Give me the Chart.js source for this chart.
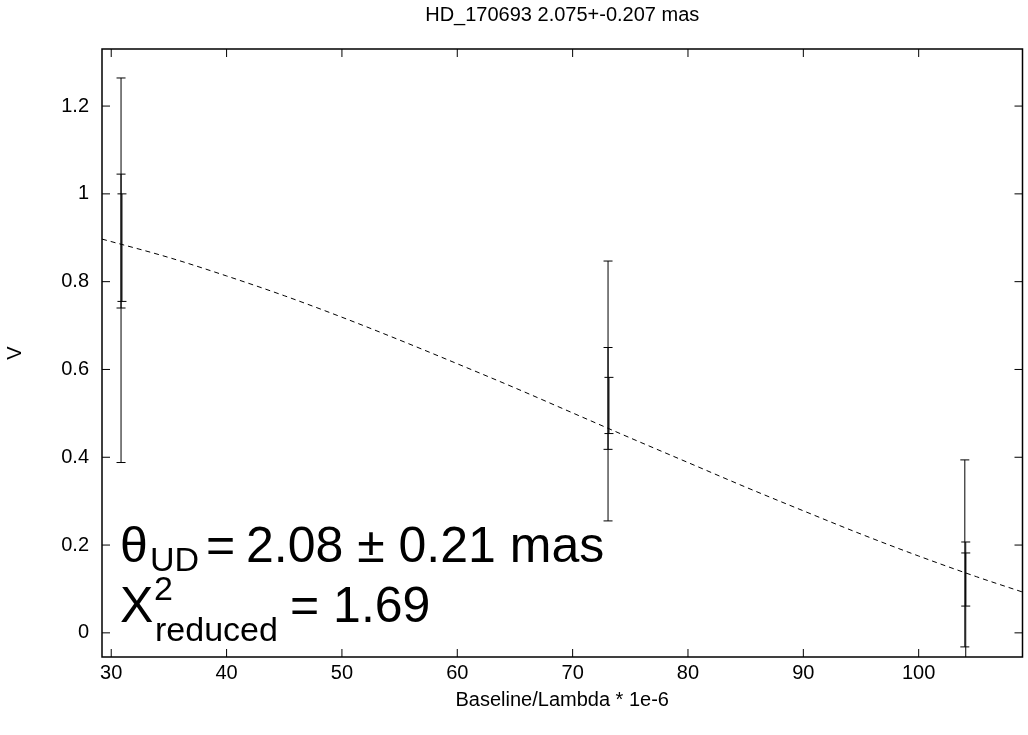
<!DOCTYPE html>
<html>
<head>
<meta charset="utf-8">
<script src="https://cdn.jsdelivr.net/npm/chart.js@4.4.1/dist/chart.umd.min.js"></script>
<style>
  html, body { margin: 0; padding: 0; background: #fff; }
  canvas { display: block; }
</style>
</head>
<body>
<canvas id="chart" width="1028" height="735"></canvas>
<script>
// visibility points, three per baseline (x offset a hair so overlaps look thicker)
const barX   = [30.85, 30.85, 30.93, 73.07, 73.07, 73.15, 104.0, 104.08, 104.08];
const barV   = [0.826, 0.8925, 0.8775, 0.551, 0.534, 0.518, 0.181, 0.055, 0.1215];
const barErr = [0.438, 0.1525, 0.1225, 0.296, 0.116, 0.064, 0.213, 0.152, 0.0605];

// uniform disk fit
const curveX = [29.2, 35, 40, 45, 50, 55, 60, 65, 70, 75, 80, 85, 90, 95, 100, 105, 109];
const curveV = [0.897, 0.855, 0.813, 0.768, 0.719, 0.667, 0.613, 0.558, 0.501, 0.444, 0.388, 0.332, 0.278, 0.225, 0.175, 0.128, 0.093];

const xTicks = [30, 40, 50, 60, 70, 80, 90, 100];
const yTicks = [0, 0.2, 0.4, 0.6, 0.8, 1, 1.2];

const family = '"Liberation Sans", Arial, Helvetica, sans-serif';
const font = { family: family, size: 20 };

// gnuplot style box with inward mirrored ticks
const frame = {
  id: 'frame',
  afterDatasetsDraw(chart) {
    const { ctx, chartArea: a, scales } = chart;
    const tl = 8;
    ctx.save();
    ctx.strokeStyle = '#000';
    ctx.lineWidth = 1;
    ctx.beginPath();
    xTicks.forEach(v => {
      const px = scales.x.getPixelForValue(v);
      ctx.moveTo(px, a.bottom); ctx.lineTo(px, a.bottom - tl);
      ctx.moveTo(px, a.top); ctx.lineTo(px, a.top + tl);
    });
    yTicks.forEach(v => {
      const py = scales.y.getPixelForValue(v);
      ctx.moveTo(a.left, py); ctx.lineTo(a.left + tl, py);
      ctx.moveTo(a.right, py); ctx.lineTo(a.right - tl, py);
    });
    ctx.stroke();
    ctx.lineWidth = 1.5;
    ctx.strokeRect(a.left, a.top, a.right - a.left, a.bottom - a.top);
    ctx.restore();
  }
};

// fit result text in the lower left
const note = {
  id: 'note',
  afterDraw(chart) {
    const ctx = chart.ctx;
    const big = '50px ' + family;
    const small = '34px ' + family;
    ctx.save();
    ctx.fillStyle = '#000';
    ctx.textBaseline = 'alphabetic';
    ctx.font = big;   ctx.fillText('θ', 120, 562);
    ctx.font = small; ctx.fillText('UD', 150, 571);
    ctx.font = big;   ctx.fillText('=', 206, 562);
    ctx.fillText('2.08 ± 0.21 mas', 246, 562);
    ctx.fillText('X', 120, 622);
    ctx.font = small; ctx.fillText('2', 154, 600);
    ctx.fillText('reduced', 155, 641);
    ctx.font = big;   ctx.fillText('= 1.69', 290, 622);
    ctx.restore();
  }
};

const curve = {
  data: curveX.map((x, i) => ({ x: x, y: curveV[i] })),
  borderColor: '#000',
  borderWidth: 1,
  borderDash: [5, 4],
  pointRadius: 0,
  cubicInterpolationMode: 'monotone',
  fill: false
};

const bars = barX.map((x, i) => ({
  data: [{ x: x, y: barV[i] - barErr[i] }, { x: x, y: barV[i] + barErr[i] }],
  borderColor: '#000',
  borderWidth: 1,
  pointStyle: 'line',
  pointRadius: 4.5,
  pointBorderColor: '#000',
  pointBorderWidth: 1,
  fill: false
}));

new Chart(document.getElementById('chart'), {
  type: 'line',
  data: { datasets: [curve, ...bars] },
  options: {
    responsive: false,
    animation: false,
    events: [],
    layout: { padding: { left: 0, right: 4, top: 0, bottom: 0 } },
    plugins: {
      legend: { display: false },
      tooltip: { enabled: false },
      title: {
        display: true,
        text: 'HD_170693 2.075+-0.207 mas',
        color: '#000',
        font: { family: family, size: 20, weight: 'normal' },
        padding: { top: 3, bottom: 22 },
        fullSize: false
      }
    },
    scales: {
      x: {
        type: 'linear',
        min: 29.2,
        max: 109,
        afterBuildTicks: s => { s.ticks = xTicks.map(v => ({ value: v })); },
        afterFit: s => { s.height = 78; },
        grid: { display: false, drawTicks: false },
        border: { display: false },
        ticks: { color: '#000', font: font, padding: 4, maxRotation: 0 },
        title: { display: true, text: 'Baseline/Lambda * 1e-6', color: '#000', font: font, padding: { top: 0, bottom: 23 } }
      },
      y: {
        type: 'linear',
        min: -0.055,
        max: 1.33,
        afterBuildTicks: s => { s.ticks = yTicks.map(v => ({ value: v })); },
        afterFit: s => { s.width = 102; },
        grid: { display: false, drawTicks: false },
        border: { display: false },
        ticks: { color: '#000', font: font, padding: 13, callback: v => String(+v.toFixed(1)) },
        title: { display: true, text: 'V', color: '#000', font: font, padding: { top: 3, bottom: 0 } }
      }
    }
  },
  plugins: [frame, note]
});
</script>
</body>
</html>
